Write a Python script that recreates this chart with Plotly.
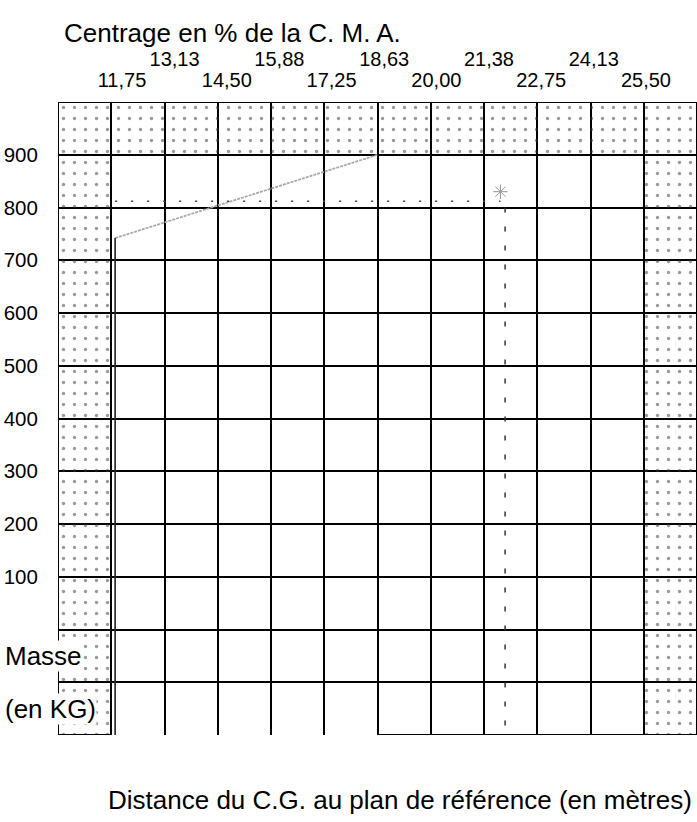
import plotly.graph_objects as go

# ---- data -------------------------------------------------------------
# Grid of the CG envelope chart, expressed in % of the C.M.A.
grid_start = 10.375
grid_step = 1.375
n_cols = 12
mass_min, mass_max, mass_step = -200, 1000, 100

# Top scale (% C.M.A.), two staggered rows
cma_low_vals = [11.75, 14.50, 17.25, 20.00, 22.75, 25.50]
cma_low_text = ["11,75", "14,50", "17,25", "20,00", "22,75", "25,50"]
cma_high_vals = [13.13, 15.88, 18.63, 21.38, 24.13]
cma_high_text = ["13,13", "15,88", "18,63", "21,38", "24,13"]

# Left scale (mass, kg)
mass_grid = [-100, 0, 100, 200, 300, 400, 500, 600, 700, 800, 900]
mass_text = ["", "", "100", "200", "300", "400", "500", "600", "700", "800", "900"]

# Stippled (out-of-limits) zones
top_zone_base, top_zone_height = 900, 100
side_zone_base, side_zone_height = -200, 1100

# Pencil envelope marks (CMA %, kg)
fwd_x = [11.85, 11.85]
fwd_y = [-200, 742]
slope_x = [11.85, 18.63]
slope_y = [742, 900]
hline_x = [11.85, 21.8]
hline_y = [812, 812]
aft_x = [21.92, 21.92]
aft_y = [800, -200]
mark_x = [21.8]
mark_y = [830]

FONT = "Liberation Sans, Arial, sans-serif"
col_centers = [grid_start + grid_step * (k + 0.5) for k in range(n_cols)]
grid_end = grid_start + grid_step * n_cols

fig = go.Figure()

pattern = dict(shape=".", size=11, solidity=0.07, fgcolor="#333",
               bgcolor="rgba(0,0,0,0)", fillmode="overlay")

fig.add_trace(go.Bar(x=col_centers, y=[top_zone_height] * n_cols,
                     base=[top_zone_base] * n_cols, width=grid_step,
                     marker=dict(color="rgba(0,0,0,0)", line=dict(width=0), pattern=pattern),
                     hoverinfo="skip", showlegend=False))
fig.add_trace(go.Bar(x=[col_centers[0], col_centers[-1]], y=[side_zone_height] * 2,
                     base=[side_zone_base] * 2, width=grid_step,
                     marker=dict(color="rgba(0,0,0,0)", line=dict(width=0), pattern=pattern),
                     hoverinfo="skip", showlegend=False))

# pencil marks
fig.add_trace(go.Scatter(x=slope_x, y=slope_y, mode="lines",
                         line=dict(color="#aaaaaa", width=1.8, dash="3px,1px"),
                         hoverinfo="skip", showlegend=False))
fig.add_trace(go.Scatter(x=fwd_x, y=fwd_y, mode="lines",
                         line=dict(color="#222", width=1.6),
                         hoverinfo="skip", showlegend=False))
fig.add_trace(go.Scatter(x=hline_x, y=hline_y, mode="lines",
                         line=dict(color="#444", width=1.5, dash="2px,14px"),
                         hoverinfo="skip", showlegend=False))
fig.add_trace(go.Scatter(x=aft_x, y=aft_y, mode="lines",
                         line=dict(color="#333", width=1.5, dash="5px,14px"),
                         hoverinfo="skip", showlegend=False))
fig.add_trace(go.Scatter(x=mark_x, y=mark_y, mode="markers",
                         marker=dict(symbol="asterisk-open", size=12, color="#999",
                                     line=dict(width=1, color="#999")),
                         hoverinfo="skip", showlegend=False))

# invisible traces to carry the two top scales
fig.add_trace(go.Scatter(x=[cma_low_vals[0]], y=[0], xaxis="x2", mode="markers",
                         marker=dict(opacity=0), hoverinfo="skip", showlegend=False))
fig.add_trace(go.Scatter(x=[cma_high_vals[0]], y=[0], xaxis="x3", mode="markers",
                         marker=dict(opacity=0), hoverinfo="skip", showlegend=False))

top_range = [10.0705, 26.839]

fig.update_layout(
    width=697, height=822,
    margin=dict(l=58, r=0, t=102, b=87),
    paper_bgcolor="white", plot_bgcolor="white",
    barmode="overlay", bargap=0,
    font=dict(family=FONT, color="black"),
    xaxis=dict(range=[grid_start, grid_end], tick0=grid_start, dtick=grid_step,
               tickmode="linear", showticklabels=False, ticks="",
               showgrid=True, gridcolor="black", gridwidth=1.5,
               zeroline=False, showline=False),
    xaxis2=dict(overlaying="x", side="top", anchor="y", range=top_range,
                tickmode="array", tickvals=cma_low_vals, ticktext=cma_low_text,
                ticks="outside", ticklen=6, tickcolor="rgba(0,0,0,0)",
                tickfont=dict(size=20, family=FONT),
                showgrid=False, zeroline=False, showline=False),
    xaxis3=dict(overlaying="x", side="top", anchor="y", range=top_range,
                tickmode="array", tickvals=cma_high_vals, ticktext=cma_high_text,
                ticks="outside", ticklen=27, tickcolor="rgba(0,0,0,0)",
                tickfont=dict(size=20, family=FONT),
                showgrid=False, zeroline=False, showline=False),
    yaxis=dict(range=[mass_min, mass_max], tickmode="array",
               tickvals=mass_grid, ticktext=mass_text,
               ticks="outside", ticklen=15, tickcolor="rgba(0,0,0,0)",
               tickfont=dict(size=20.5, family=FONT),
               showgrid=True, gridcolor="black", gridwidth=1.5,
               zeroline=False, showline=False),
)

# frame
frame = dict(color="black", width=2)
fig.add_shape(type="line", xref="x", yref="y", x0=grid_start, x1=grid_end,
              y0=mass_max, y1=mass_max, line=frame)
fig.add_shape(type="line", xref="x", yref="y", x0=grid_start, x1=grid_start,
              y0=mass_min, y1=mass_max, line=frame)
fig.add_shape(type="line", xref="x", yref="y", x0=grid_end, x1=grid_end,
              y0=mass_min, y1=mass_max, line=frame)
fig.add_shape(type="line", xref="x", yref="y", x0=grid_start, x1=grid_start + grid_step,
              y0=mass_min, y1=mass_min, line=frame)
fig.add_shape(type="line", xref="x", yref="y", x0=grid_start + 6 * grid_step, x1=grid_end,
              y0=mass_min, y1=mass_min, line=frame)

# texts
fig.add_annotation(text="Centrage en % de la C. M. A.", xref="paper", yref="paper",
                   x=0.0063, y=1.109, xanchor="left", yanchor="middle",
                   showarrow=False, font=dict(size=26, family=FONT))
fig.add_annotation(text="Distance du C.G. au plan de référence (en mètres)",
                   xref="paper", yref="paper", x=0.535, y=-0.103,
                   xanchor="center", yanchor="middle",
                   showarrow=False, font=dict(size=26, family=FONT))
fig.add_annotation(text="Masse", xref="paper", yref="y", x=-0.0845, y=-50,
                   xanchor="left", yanchor="middle", showarrow=False,
                   bgcolor="white", borderpad=0, font=dict(size=26, family=FONT))
fig.add_annotation(text="(en KG)", xref="paper", yref="y", x=-0.0845, y=-150,
                   xanchor="left", yanchor="middle", showarrow=False,
                   bgcolor="white", borderpad=0, font=dict(size=26, family=FONT))

fig.write_html("out.html",
               config={"displayModeBar": False},
               post_script="document.body.style.margin='0';document.body.style.overflow='hidden';")
